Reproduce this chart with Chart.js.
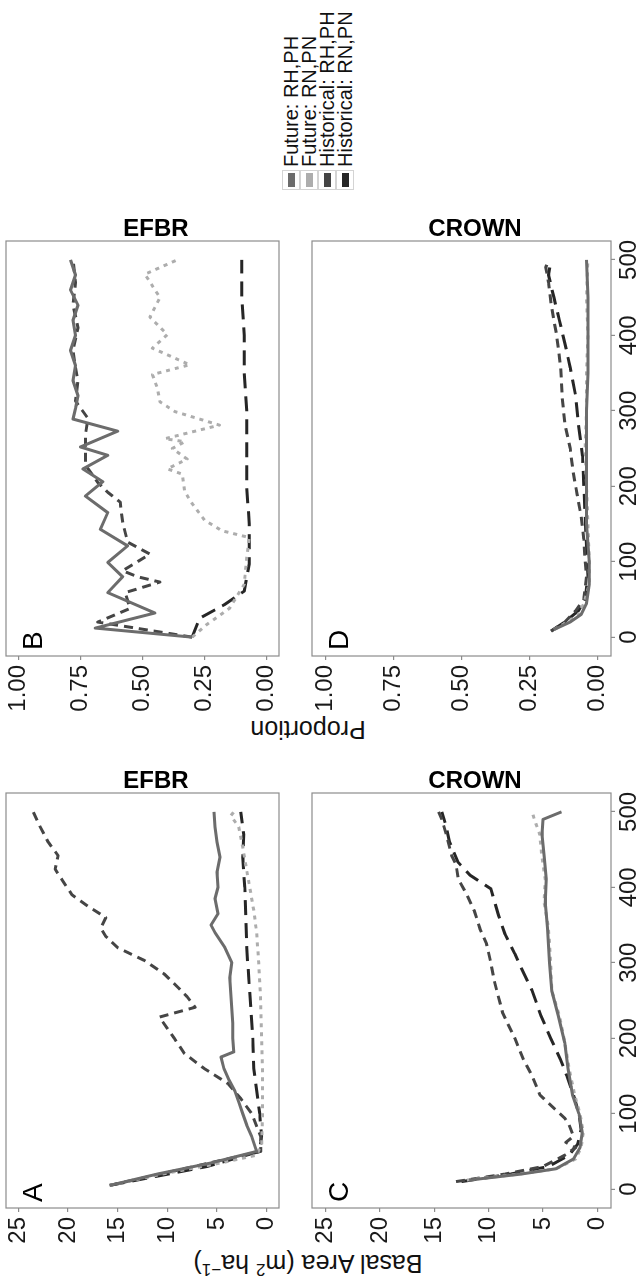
<!DOCTYPE html>
<html>
<head>
<meta charset="utf-8">
<title>Basal area and proportion</title>
<script src="https://cdn.jsdelivr.net/npm/chart.js@4.4.1/dist/chart.umd.min.js"></script>
<style>
  html, body { margin: 0; padding: 0; background: #fff; }
  body { width: 638px; height: 1285px; overflow: hidden; position: relative;
         font-family: 'Liberation Sans', Arial, sans-serif; }
  /* figure is laid out landscape, then turned a quarter turn counter-clockwise */
  #figure { position: absolute; left: 0; top: 0; width: 1285px; height: 638px;
            transform-origin: 0 0; transform: translate(0, 1285px) rotate(-90deg); }
  #figure canvas { position: absolute; }
  .ytitle { position: absolute; transform: translate(-50%, -50%) rotate(-90deg);
            white-space: nowrap; font-size: 25px; line-height: 1; color: #111; }
  .ytitle sup { font-size: 0.68em; line-height: 0; }
  #legend { position: absolute; left: 1095px; top: 282px; }
  #legend .row { display: flex; align-items: center; height: 18px; }
  #legend .key { position: relative; width: 20px; height: 18px; box-sizing: border-box;
                 border: 1px solid #d4d4d4; }
  #legend .bar { position: absolute; left: 2px; top: 4.5px; width: 14px; height: 7px; }
  #legend .txt { margin-left: 3px; font-size: 20px; line-height: 18px; color: #111; white-space: nowrap; }
</style>
</head>
<body>
<div id="figure">
  <div class="ytitle" style="left:22px; top:308px;">Basal Area (m<sup>2</sup> ha<sup>&minus;1</sup>)</div>
  <div class="ytitle" style="left:556px; top:308px;">Proportion</div>
  <canvas id="cA" width="480" height="308" style="left:36px; top:0px;"></canvas>
  <canvas id="cC" width="480" height="330" style="left:36px; top:308px;"></canvas>
  <canvas id="cB" width="498" height="308" style="left:570px; top:0px;"></canvas>
  <canvas id="cD" width="498" height="330" style="left:570px; top:308px;"></canvas>
  <div id="legend"></div>
</div>
<script>
// axis ticks
const timeTicks = [0, 100, 200, 300, 400, 500];
const basalTicks = [0, 5, 10, 15, 20, 25];
const propTicks = [0, 0.25, 0.5, 0.75, 1];

// each series: [year, value]

// A - basal area, EFBR
const efbrBasalFutRH = [[5,15.8],[20,11],[35,5.5],[50,1.0],[70,1.5],[85,2.0],[100,2.4],[115,2.8],[130,3.2],[145,3.8],[160,4.3],[175,4.6],[182,3.3],[200,3.4],[220,3.4],[240,3.5],[260,3.6],[280,3.7],[300,3.5],[320,4.2],[340,5.2],[350,5.6],[365,4.9],[385,5.2],[400,4.9],[420,5.0],[440,4.7],[460,5.0],[480,5.2],[500,5.3]];
const efbrBasalFutRN = [[5,15.8],[20,10.5],[35,4.5],[45,1.0],[60,0.5],[100,0.4],[150,0.4],[200,0.5],[250,0.6],[300,0.8],[340,1.0],[370,1.3],[400,1.7],[430,2.1],[460,2.5],[480,2.8],[495,3.6],[500,3.3]];
const efbrBasalHistRH = [[5,15.8],[25,9],[50,0.6],[70,0.6],[100,1.5],[120,2.6],[140,3.9],[160,6.3],[180,8.3],[200,9.3],[228,10.8],[241,7.2],[255,8.0],[267,8.9],[285,10.3],[303,12.3],[320,15.0],[335,16.2],[346,16.7],[360,16.2],[375,18.0],[390,19.6],[410,20.6],[424,21.3],[442,21.0],[460,22.0],[480,22.8],[500,23.5]];
const efbrBasalHistRN = [[5,15.8],[30,6],[50,0.7],[70,0.5],[100,0.7],[130,1.0],[160,1.3],[200,1.4],[240,1.6],[280,1.8],[320,2.0],[360,2.1],[400,2.2],[440,2.4],[470,2.3],[500,2.6]];

// B - proportion, EFBR
const efbrPropFutRH = [[0,0.30],[12,0.69],[32,0.45],[59,0.64],[80,0.58],[99,0.64],[121,0.56],[143,0.67],[165,0.64],[187,0.73],[206,0.66],[223,0.74],[241,0.64],[252,0.75],[273,0.60],[289,0.78],[303,0.77],[320,0.76],[340,0.78],[360,0.77],[380,0.79],[400,0.77],[420,0.78],[440,0.76],[460,0.79],[480,0.77],[500,0.79]];
const efbrPropFutRN = [[0,0.30],[17,0.24],[38,0.15],[70,0.09],[106,0.08],[132,0.07],[141,0.18],[155,0.25],[177,0.30],[193,0.33],[216,0.34],[223,0.40],[236,0.32],[250,0.38],[259,0.33],[263,0.41],[281,0.19],[299,0.37],[312,0.43],[330,0.44],[348,0.46],[361,0.31],[383,0.46],[401,0.40],[424,0.47],[450,0.43],[481,0.49],[500,0.36]];
const efbrPropHistRH = [[0,0.30],[20,0.68],[38,0.55],[59,0.57],[73,0.43],[80,0.52],[88,0.58],[110,0.47],[126,0.56],[152,0.58],[179,0.59],[192,0.64],[205,0.68],[228,0.73],[268,0.73],[290,0.72],[313,0.77],[340,0.76],[357,0.77],[380,0.78],[410,0.76],[440,0.78],[470,0.77],[500,0.78]];
const efbrPropHistRN = [[0,0.30],[25,0.27],[43,0.17],[61,0.09],[97,0.07],[150,0.07],[200,0.08],[250,0.08],[300,0.08],[350,0.09],[400,0.09],[450,0.10],[500,0.10]];

// C - basal area, CROWN
const crownBasalFutRH = [[12,11.8],[20,7],[27,3.8],[40,2.2],[55,1.6],[75,1.4],[100,1.7],[125,2.3],[160,2.7],[194,3.0],[230,3.6],[263,4.2],[300,4.4],[346,4.6],[380,4.8],[411,4.7],[440,4.9],[470,5.1],[490,5.0],[500,3.3]];
const crownBasalFutRN = [[12,12.0],[20,7.2],[27,3.8],[40,2.0],[55,1.5],[75,1.3],[100,1.6],[125,2.1],[160,2.6],[194,3.0],[230,3.5],[263,4.2],[300,4.3],[346,4.5],[380,4.9],[411,4.8],[440,5.1],[470,5.3],[490,5.8],[500,6.0]];
const crownBasalHistRH = [[10,13.0],[20,8.5],[30,5.0],[45,3.0],[55,2.0],[62,2.9],[70,2.2],[85,2.6],[94,3.0],[110,4.2],[125,5.3],[150,6.0],[172,6.8],[200,7.6],[233,8.7],[260,9.2],[277,9.5],[300,9.8],[325,10.2],[345,10.8],[368,11.3],[390,12.0],[411,12.8],[430,13.0],[442,13.4],[470,13.9],[490,14.3],[500,14.6]];
const crownBasalHistRN = [[10,12.5],[20,8],[30,4.5],[45,2.6],[60,1.8],[80,1.5],[100,1.7],[125,2.2],[150,2.8],[172,3.4],[200,4.3],[230,5.2],[263,6.0],[290,6.9],[312,7.6],[338,8.5],[363,9.1],[398,9.8],[416,11.7],[433,12.8],[460,13.6],[480,13.9],[500,14.3]];

// D - proportion, CROWN
const crownPropFutRH = [[10,0.16],[20,0.10],[30,0.06],[45,0.04],[70,0.03],[100,0.03],[150,0.04],[200,0.04],[250,0.04],[300,0.04],[350,0.035],[400,0.035],[450,0.035],[500,0.04]];
const crownPropFutRN = [[10,0.16],[20,0.11],[30,0.07],[45,0.05],[70,0.03],[100,0.03],[150,0.035],[200,0.04],[250,0.045],[300,0.04],[350,0.04],[400,0.035],[450,0.04],[500,0.035]];
const crownPropHistRH = [[8,0.17],[20,0.12],[35,0.08],[50,0.05],[80,0.04],[100,0.045],[130,0.05],[160,0.06],[190,0.075],[220,0.09],[250,0.10],[283,0.12],[320,0.13],[357,0.135],[400,0.15],[440,0.17],[470,0.18],[490,0.19],[500,0.18]];
const crownPropHistRN = [[8,0.17],[20,0.12],[35,0.07],[50,0.045],[80,0.035],[120,0.04],[160,0.045],[200,0.05],[240,0.055],[283,0.07],[320,0.08],[357,0.10],[390,0.12],[420,0.14],[450,0.16],[480,0.18],[500,0.17]];

const seriesOrder = ['futRH', 'futRN', 'histRH', 'histRN'];
const lineStyles = {
  futRH:  { label: 'Future: RH,PH',     color: '#6c6c6c', dash: [] },
  futRN:  { label: 'Future: RN,PN',     color: '#adadad', dash: [4, 5] },
  histRH: { label: 'Historical: RH,PH', color: '#454545', dash: [9, 6] },
  histRN: { label: 'Historical: RN,PN', color: '#262626', dash: [15, 8] }
};

const panels = [
  { id: 'cA', tag: 'A', strip: 'EFBR',  kind: 'basal', bottom: false, axisWidth: 41,
    series: { futRH: efbrBasalFutRH, futRN: efbrBasalFutRN, histRH: efbrBasalHistRH, histRN: efbrBasalHistRN } },
  { id: 'cB', tag: 'B', strip: 'EFBR',  kind: 'prop',  bottom: false, axisWidth: 59,
    series: { futRH: efbrPropFutRH, futRN: efbrPropFutRN, histRH: efbrPropHistRH, histRN: efbrPropHistRN } },
  { id: 'cC', tag: 'C', strip: 'CROWN', kind: 'basal', bottom: true,  axisWidth: 41,
    series: { futRH: crownBasalFutRH, futRN: crownBasalFutRN, histRH: crownBasalHistRH, histRN: crownBasalHistRN } },
  { id: 'cD', tag: 'D', strip: 'CROWN', kind: 'prop',  bottom: true,  axisWidth: 59,
    series: { futRH: crownPropFutRH, futRN: crownPropFutRN, histRH: crownPropHistRH, histRN: crownPropHistRN } }
];

Chart.defaults.font.family = "'Liberation Sans', Arial, sans-serif";

// grey box round the plot area + the panel letter
const panelFrame = {
  id: 'panelFrame',
  afterDraw(chart, args, opts) {
    const { ctx, chartArea: a } = chart;
    ctx.save();
    ctx.strokeStyle = '#8c8c8c';
    ctx.lineWidth = 1.2;
    ctx.strokeRect(a.left, a.top, a.right - a.left, a.bottom - a.top);
    ctx.fillStyle = '#000';
    ctx.font = "28px 'Liberation Sans', Arial, sans-serif";
    ctx.textBaseline = 'alphabetic';
    ctx.fillText(opts.tag, a.left + 6, a.top + 36);
    ctx.restore();
  }
};

const tickGrid = { display: true, drawOnChartArea: false, drawTicks: true, tickLength: 4, tickColor: '#8c8c8c', lineWidth: 1.2 };
const tickFont = { size: 24 };

function makePanel(p) {
  const isBasal = p.kind === 'basal';
  const yTicks = isBasal ? basalTicks : propTicks;

  const datasets = seriesOrder.map(key => ({
    label: lineStyles[key].label,
    data: p.series[key].map(([x, y]) => ({ x, y })),
    borderColor: lineStyles[key].color,
    borderDash: lineStyles[key].dash,
    borderWidth: 3,
    borderJoinStyle: 'round',
    pointRadius: 0,
    tension: 0,
    fill: false
  }));

  return new Chart(document.getElementById(p.id), {
    type: 'line',
    data: { datasets },
    options: {
      responsive: false,
      animation: false,
      devicePixelRatio: 1,
      layout: { padding: { top: p.bottom ? 4 : 6, bottom: p.bottom ? 0 : 2, left: 0, right: 0 } },
      plugins: {
        legend: { display: false },
        tooltip: { enabled: false },
        title: {
          display: true, position: 'right', text: p.strip, color: '#000',
          font: { size: 24, weight: 'bold', lineHeight: 1 }, padding: 0
        },
        panelFrame: { tag: p.tag }
      },
      scales: {
        x: {
          type: 'linear', min: -25, max: 525, display: p.bottom,
          afterBuildTicks: s => { s.ticks = timeTicks.map(v => ({ value: v })); },
          afterFit: s => { s.height = 27; s.paddingLeft = 0; s.paddingRight = 0; },
          grid: tickGrid,
          border: { display: false },
          ticks: { font: tickFont, color: '#1a1a1a', padding: 0, maxRotation: 0, minRotation: 0, autoSkip: false }
        },
        y: {
          type: 'linear',
          min: isBasal ? -1.25 : -0.05,
          max: isBasal ? 26.25 : 1.05,
          afterBuildTicks: s => { s.ticks = yTicks.map(v => ({ value: v })); },
          afterFit: s => { s.width = p.axisWidth; s.paddingTop = 0; s.paddingBottom = 0; },
          grid: tickGrid,
          border: { display: false },
          ticks: {
            font: tickFont, color: '#1a1a1a', padding: 5, autoSkip: false,
            callback: v => isBasal ? String(v) : Number(v).toFixed(2)
          }
        }
      }
    },
    plugins: [panelFrame]
  });
}

panels.forEach(makePanel);

// legend keys
const legend = document.getElementById('legend');
seriesOrder.forEach(key => {
  const st = lineStyles[key];
  const row = document.createElement('div');
  row.className = 'row';
  row.innerHTML = `<div class="key"><div class="bar" style="background:${st.color}"></div></div><span class="txt">${st.label}</span>`;
  legend.appendChild(row);
});
</script>
</body>
</html>
